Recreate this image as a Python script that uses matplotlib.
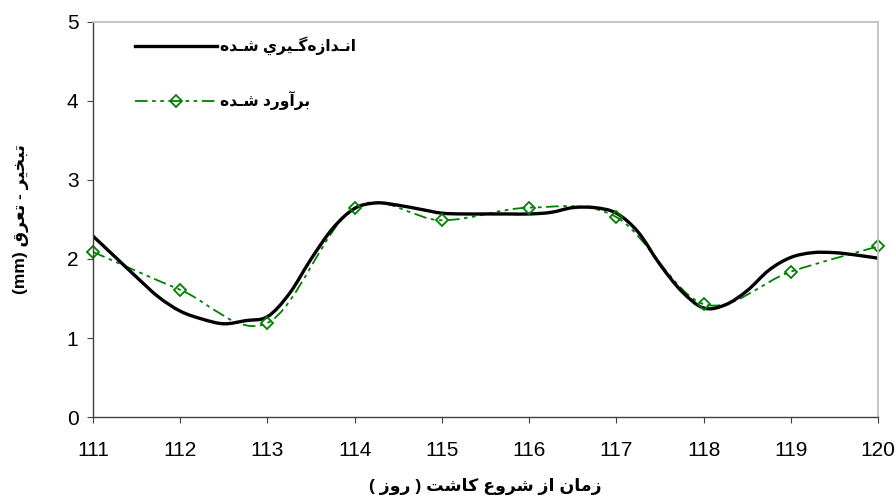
import numpy as np
import matplotlib
matplotlib.use("agg")
import matplotlib.pyplot as plt
from matplotlib.path import Path
from matplotlib.patches import PathPatch
from matplotlib.lines import Line2D

# measured evapotranspiration (every 6 h) and estimated (daily)
days_meas = [111, 111.25, 111.5, 111.75, 112, 112.25, 112.5, 112.75, 113, 113.25,
             113.5, 113.75, 114, 114.25, 114.5, 114.75, 115, 115.25, 115.5, 115.75,
             116, 116.25, 116.5, 116.75, 117, 117.25, 117.5, 117.75, 118, 118.25,
             118.5, 118.75, 119, 119.25, 119.5, 119.75, 120]
et_meas = [2.29, 2.03, 1.77, 1.52, 1.34, 1.24, 1.18, 1.22, 1.27, 1.56,
           2.00, 2.39, 2.64, 2.71, 2.68, 2.63, 2.58, 2.57, 2.57, 2.57,
           2.57, 2.59, 2.65, 2.65, 2.58, 2.34, 1.93, 1.59, 1.38, 1.42,
           1.60, 1.86, 2.02, 2.08, 2.08, 2.05, 2.01]
days_est = [111, 112, 113, 114, 115, 116, 117, 118, 119, 120]
et_est = [2.09, 1.61, 1.19, 2.65, 2.49, 2.65, 2.53, 1.43, 1.84, 2.16]

label_meas = "انـدازه\u200cگـيري شـده"
label_est = "برآورد شـده"
xlabel_txt = "زمان از شروع كاشت ( روز )"
ylabel_txt = "تبخير - تعرق"
ylabel_unit = "(mm)"

# ---- tiny Arabic-script shaper (matplotlib 3.10 has no shaping) ----
FORMS = {  # isolated, final, initial, medial
    'ا': ('\uFE8D', '\uFE8E', None, None),
    'آ': ('\uFE81', '\uFE82', None, None),
    'د': ('\uFEA9', '\uFEAA', None, None),
    'ذ': ('\uFEAB', '\uFEAC', None, None),
    'ر': ('\uFEAD', '\uFEAE', None, None),
    'ز': ('\uFEAF', '\uFEB0', None, None),
    'و': ('\uFEED', '\uFEEE', None, None),
    'ب': ('\uFE8F', '\uFE90', '\uFE91', '\uFE92'),
    'ت': ('\uFE95', '\uFE96', '\uFE97', '\uFE98'),
    'خ': ('\uFEA5', '\uFEA6', '\uFEA7', '\uFEA8'),
    'ش': ('\uFEB5', '\uFEB6', '\uFEB7', '\uFEB8'),
    'ع': ('\uFEC9', '\uFECA', '\uFECB', '\uFECC'),
    'ق': ('\uFED5', '\uFED6', '\uFED7', '\uFED8'),
    'ك': ('\uFED9', '\uFEDA', '\uFEDB', '\uFEDC'),
    'م': ('\uFEE1', '\uFEE2', '\uFEE3', '\uFEE4'),
    'ن': ('\uFEE5', '\uFEE6', '\uFEE7', '\uFEE8'),
    'ه': ('\uFEE9', '\uFEEA', '\uFEEB', '\uFEEC'),
    'ي': ('\uFEF1', '\uFEF2', '\uFEF3', '\uFEF4'),
    'گ': ('\uFB92', '\uFB93', '\uFB94', '\uFB95'),
}
TATWEEL = '\u0640'


def joins_next(c):
    return c == TATWEEL or (c in FORMS and FORMS[c][2] is not None)


def joins_prev(c):
    return c == TATWEEL or c in FORMS


def shape(s):
    out = []
    for i, c in enumerate(s):
        if c == '\u200c':
            continue
        if c not in FORMS:
            out.append(c)
            continue
        prev = s[i - 1] if i > 0 else ''
        nxt = s[i + 1] if i + 1 < len(s) else ''
        p = prev != '' and joins_next(prev) and joins_prev(c)
        n = nxt != '' and joins_next(c) and joins_prev(nxt)
        iso, fin, ini, med = FORMS[c]
        if p and n:
            out.append(med)
        elif p:
            out.append(fin)
        elif n:
            out.append(ini)
        else:
            out.append(iso)
    vis = ''.join(reversed(out))
    return vis.translate(str.maketrans('()', ')('))


def smooth_path(xs, ys):
    pts = np.column_stack([xs, ys]).astype(float)
    n = len(pts)
    verts = [pts[0]]
    codes = [Path.MOVETO]
    for i in range(n - 1):
        p0 = pts[max(i - 1, 0)]
        p1 = pts[i]
        p2 = pts[i + 1]
        p3 = pts[min(i + 2, n - 1)]
        verts += [p1 + (p2 - p0) / 6, p2 - (p3 - p1) / 6, p2]
        codes += [Path.CURVE4] * 3
    return Path(verts, codes)


fam = ['Liberation Sans', 'DejaVu Sans']
green = '#008000'
dash = (0, (7, 2.5, 2, 2.5, 2, 2.5))

fig = plt.figure(figsize=(8.96, 5.04), dpi=100)
ax = fig.add_axes([0.1038, 0.1726, 0.8762, 0.7838])

ax.add_patch(PathPatch(smooth_path(days_est, et_est), fill=False,
                       edgecolor=green, lw=1.3, linestyle=dash))
ax.plot(days_est, et_est, linestyle='none', marker='D', markersize=6.5,
        mfc='none', mec=green, mew=1.3, clip_on=False)
ax.add_patch(PathPatch(smooth_path(days_meas, et_meas), fill=False,
                       edgecolor='black', lw=2.4, capstyle='round'))

ax.set_xlim(111, 120)
ax.set_ylim(0, 5)
ax.set_xticks(range(111, 121))
ax.set_yticks(range(0, 6))

for s in ['top', 'right']:
    ax.spines[s].set_color('#c0c0c0')
    ax.spines[s].set_linewidth(1.3)
for s in ['left', 'bottom']:
    ax.spines[s].set_color('#404040')
    ax.spines[s].set_linewidth(1.0)
ax.tick_params(axis='x', direction='out', length=4.5, pad=13, labelsize=15,
               color='#404040')
ax.tick_params(axis='y', direction='out', length=4.5, pad=6, labelsize=15,
               color='#404040')
for lab in ax.get_xticklabels() + ax.get_yticklabels():
    lab.set_family(fam)

ax.set_xlabel(shape(xlabel_txt), family=fam, fontsize=12.5, fontweight='bold',
              labelpad=13)
ax.set_ylabel(ylabel_unit + ' ' + shape(ylabel_txt), family=fam, fontsize=12.5,
              fontweight='bold', labelpad=27)

handles = [Line2D([], [], color='black', lw=2.4),
           Line2D([], [], color=green, lw=1.3, linestyle=dash, marker='D',
                  markersize=6.5, mfc='none', mec=green, mew=1.3)]
leg = ax.legend(handles, [shape(label_meas), shape(label_est)],
                loc='upper left', bbox_to_anchor=(0.053, 0.963), frameon=False,
                borderaxespad=0, borderpad=0, handlelength=5.3,
                handletextpad=0.2, labelspacing=2.3,
                prop={'family': fam, 'size': 11.2, 'weight': 'bold'})

fig.savefig("out.png", dpi=100)
